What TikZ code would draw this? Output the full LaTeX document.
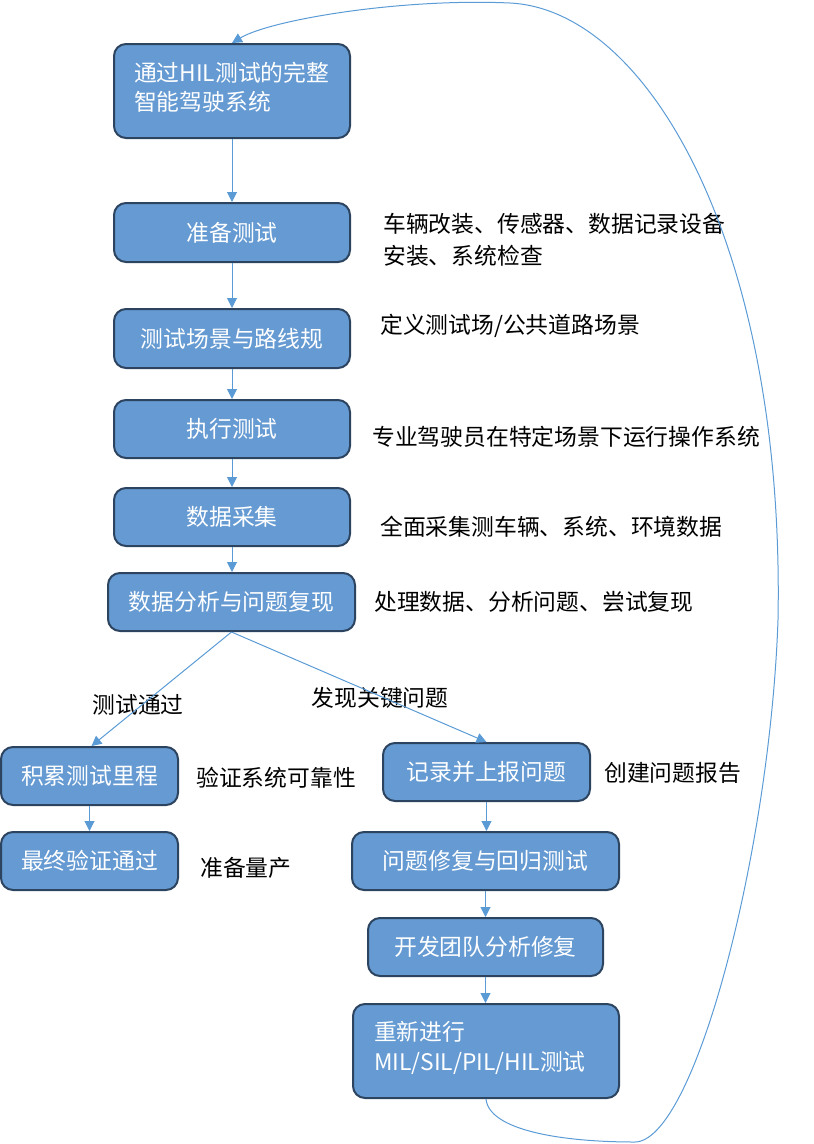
\documentclass[tikz,border=0pt]{standalone}
\usepackage{fontspec}
\setmainfont{Noto Sans CJK SC}
\usetikzlibrary{arrows.meta}
\definecolor{boxfill}{HTML}{659AD2}
\definecolor{boxline}{HTML}{2D4460}
\definecolor{arrowc}{HTML}{5B9BD5}
\begin{document}
\begin{tikzpicture}[x=1pt,y=-1pt,
  box/.style={rounded corners=12pt, draw=boxline, line width=2pt, fill=boxfill,
    text=white, font=\fontsize{22.8}{29.5}\selectfont, inner sep=0pt, align=center},
  note/.style={anchor=west, text=black, font=\fontsize{22.8}{32}\selectfont, inner sep=0pt, align=left},
  elabel/.style={text=black, font=\fontsize{22.8}{28}\selectfont, inner sep=0pt},
  flow/.style={draw=arrowc, line width=1pt, -{Triangle[length=10pt,width=10pt]}}]
\useasboundingbox (0,0) rectangle (814,1144);

\node[box, minimum width=236pt, minimum height=94pt, text width=196pt, align=left] (b1) at (232,91) {通过HIL测试的完整\\智能驾驶系统\par\vspace{7pt}};
\node[box, minimum width=236pt, minimum height=59pt] (b2) at (232,232.5) {准备测试};
\node[box, minimum width=236pt, minimum height=59pt] (b3) at (232,338.5) {测试场景与路线规};
\node[box, minimum width=236pt, minimum height=58pt] (b4) at (232,429) {执行测试};
\node[box, minimum width=236pt, minimum height=58pt] (b5) at (232,517) {数据采集};
\node[box, minimum width=247pt, minimum height=58pt] (b6) at (231.5,602) {数据分析与问题复现};
\node[box, minimum width=177pt, minimum height=58pt] (b7) at (89.5,776) {积累测试里程};
\node[box, minimum width=177pt, minimum height=58pt] (b8) at (89.5,861) {最终验证通过};
\node[box, minimum width=207pt, minimum height=58pt] (b9) at (486.5,772) {记录并上报问题};
\node[box, minimum width=267pt, minimum height=58pt] (b10) at (485.5,861) {问题修复与回归测试};
\node[box, minimum width=235pt, minimum height=58pt] (b11) at (485.5,947) {开发团队分析修复};
\node[box, minimum width=266pt, minimum height=94pt, text width=224pt, align=left] (b12) at (486,1051) {重新进行\\MIL/SIL/PIL/HIL测试\par\vspace{6pt}};

\node[note] (n2) at (383,240) {车辆改装、传感器、数据记录设备\\安装、系统检查};
\node[note] (n3) at (380,326) {定义测试场/公共道路场景};
\node[note] (n4) at (372,437) {专业驾驶员在特定场景下运行操作系统};
\node[note] (n5) at (380,527) {全面采集测车辆、系统、环境数据};
\node[note] (n6) at (374,602) {处理数据、分析问题、尝试复现};
\node[note] (n7) at (196,778) {验证系统可靠性};
\node[note] (n8) at (200,868) {准备量产};
\node[note] (n9) at (604,773) {创建问题报告};

\node[elabel] (l1) at (138,705) {测试通过};
\node[elabel] (l2) at (380,698) {发现关键问题};

\draw[flow] (b1.south) -- (b2.north);
\draw[flow] (b2.south) -- (b3.north);
\draw[flow] (b3.south) -- (b4.north);
\draw[flow] (b4.south) -- (b5.north);
\draw[flow] (b5.south) -- (b6.north -| b5.south);
\draw[flow] (b6.south) -- ([xshift=2pt]b7.north);
\draw[flow] (b6.south) -- (b9.north);
\draw[flow] (b7.south) -- (b8.north);
\draw[flow] (b9.south) -- (b9.south |- b10.north);
\draw[flow] (b10.south) -- (b10.south |- b11.north);
\draw[flow] (b11.south) -- (b11.south |- b12.north);

\draw[flow] (b12.south) .. controls (489,1130) and (560,1142) .. (635,1142)
  .. controls (695,1141) and (770,850) .. (778,620)
  .. controls (785,250) and (650,10) .. (510,3)
  .. controls (400,-2) and (270,20) .. (b1.north);
\end{tikzpicture}
\end{document}
